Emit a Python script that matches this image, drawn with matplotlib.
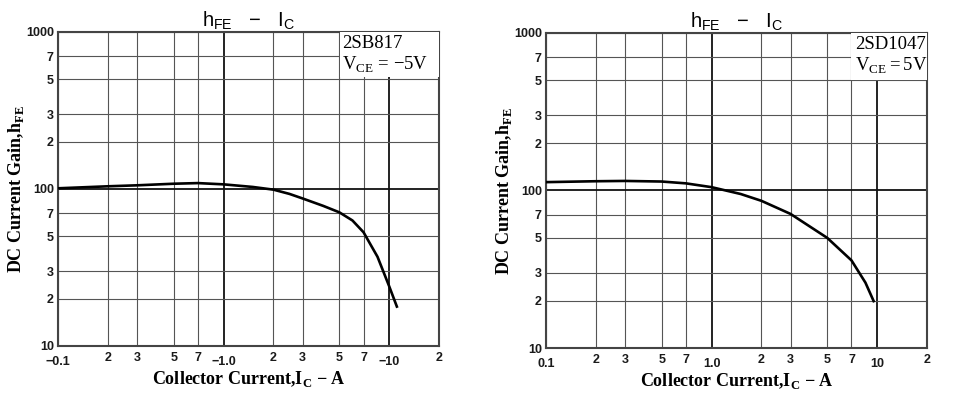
import matplotlib

matplotlib.use("Agg")

import matplotlib.pyplot as plt
from matplotlib.patches import Rectangle
from matplotlib.transforms import ScaledTranslation

# collector current magnitude [A] and DC current gain
sb817_ic = [0.1, 0.2, 0.3, 0.5, 0.7, 1.0, 1.5, 2.0, 2.5, 3.0, 4.0, 5.0, 6.0, 7.0, 8.5, 10.0, 11.2]
sb817_hfe = [101, 104, 105.5, 108, 109, 107, 103, 99, 93, 87, 78, 71, 63, 53, 37, 24, 17.5]

sd1047_ic = [0.1, 0.2, 0.3, 0.5, 0.7, 1.0, 1.5, 2.0, 3.0, 5.0, 7.0, 8.5, 9.6]
sd1047_hfe = [113, 114.5, 115, 114, 111, 105, 95, 86, 71, 50, 36, 26, 19.5]

x_ticks = [0.1, 0.2, 0.3, 0.5, 0.7, 1.0, 2, 3, 5, 7, 10, 20]
sb817_xlabels = ["\u22120.1", "2", "3", "5", "7", "\u22121.0", "2", "3", "5", "7", "\u221210", "2"]
sd1047_xlabels = ["0.1", "2", "3", "5", "7", "1.0", "2", "3", "5", "7", "10", "2"]
y_ticks = [10, 20, 30, 50, 70, 100, 200, 300, 500, 700, 1000]
y_labels = ["10", "2", "3", "5", "7", "100", "2", "3", "5", "7", "1000"]
decades = (0.1, 1.0, 10)

panels = [
    dict(ic=sb817_ic, hfe=sb817_hfe, xlabels=sb817_xlabels,
         note="2SB817\nV$_{\\mathregular{CE}}$ = \u22125V", rect=[0.0605, 0.1263, 0.3973, 0.793],
         note_x=0.745, box=(0.74, 0.857)),
    dict(ic=sd1047_ic, hfe=sd1047_hfe, xlabels=sd1047_xlabels,
         note="2SD1047\nV$_{\\mathregular{CE}}\\,$=$\\,$5V", rect=[0.5693, 0.1212, 0.3973, 0.7955],
         note_x=0.811, box=(0.80, 0.851)),
]

fig = plt.figure(figsize=(9.59, 3.96), dpi=100)
serif = ["Liberation Serif", "DejaVu Serif"]
sans = ["Liberation Sans", "DejaVu Sans"]
ink = "#1a1a1a"

for p in panels:
    ax = fig.add_axes(p["rect"])
    ax.set_xscale("log")
    ax.set_yscale("log")
    ax.set_xlim(0.1, 20)
    ax.set_ylim(10, 1000)
    ax.plot(p["ic"], p["hfe"], color="black", linewidth=1.9, zorder=4,
            solid_capstyle="butt")

    ax.xaxis.set_minor_locator(matplotlib.ticker.NullLocator())
    ax.yaxis.set_minor_locator(matplotlib.ticker.NullLocator())
    ax.set_xticks(x_ticks)
    ax.set_xticklabels(p["xlabels"])
    ax.set_yticks(y_ticks)
    ax.set_yticklabels(y_labels)
    ax.tick_params(length=0, labelsize=9, colors=ink)
    ax.tick_params(axis="x", pad=4)
    ax.tick_params(axis="y", pad=3)
    for lab in ax.get_xticklabels() + ax.get_yticklabels():
        lab.set_family(sans)
        lab.set_fontweight("bold")
    # the decade labels sit a little lower on the scan
    shift = ScaledTranslation(0, -3 / 72, fig.dpi_scale_trans)
    for loc, tick in zip(x_ticks, ax.xaxis.get_major_ticks()):
        if loc in decades:
            tick.label1.set_transform(tick.label1.get_transform() + shift)

    ax.grid(True, color="#555555", linewidth=0.8)
    for loc, line in zip(x_ticks, ax.xaxis.get_gridlines()):
        if loc in (1.0, 10):
            line.set_linewidth(1.3)
            line.set_color("#111111")
    for loc, line in zip(y_ticks, ax.yaxis.get_gridlines()):
        if loc == 100:
            line.set_linewidth(1.3)
            line.set_color("#111111")
    for s in ax.spines.values():
        s.set_linewidth(1.5)
        s.set_color("#444444")

    # white patch that blanks the grid behind the part-number note
    bx, by = p["box"]
    ax.add_patch(Rectangle((bx, by), 1 - bx, 1 - by, transform=ax.transAxes,
                           facecolor="white", edgecolor="none", zorder=3))
    ax.text(p["note_x"], 0.99, p["note"], transform=ax.transAxes, ha="left", va="top",
            fontsize=13.5, family=serif, linespacing=1.2, zorder=5)

    ax.set_title("h$_{\\mathregular{FE}}$   \u2212   I$_{\\mathregular{C}}$", family=sans,
                 fontsize=14.5, pad=4)
    ax.set_xlabel("Collector Current,I$_{\\mathregular{C}}$ \u2212 A", family=serif,
                  fontweight="bold", fontsize=13)
    ax.xaxis.set_label_coords(0.5, -0.074)
    ax.set_ylabel("DC Current Gain,h$_{\\mathregular{FE}}$", family=serif,
                  fontweight="bold", fontsize=13)
    ax.yaxis.set_label_coords(-0.084, 0.5)

fig.savefig("out.png", dpi=100)
